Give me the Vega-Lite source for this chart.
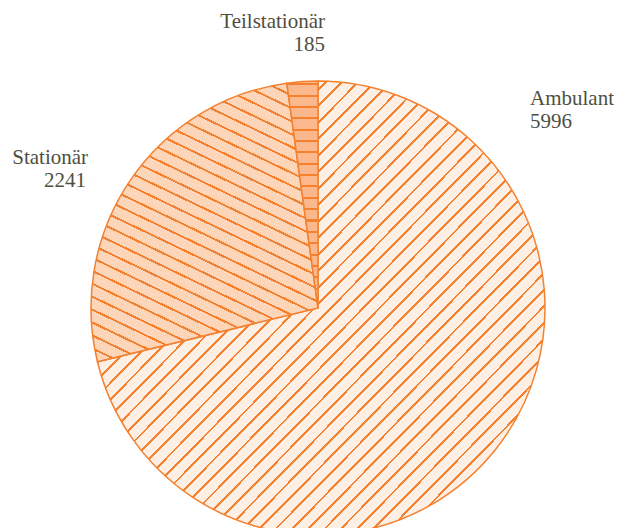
{
  "$schema": "https://vega.github.io/schema/vega-lite/v6.json",
  "autosize": "none",
  "width": 600,
  "height": 440,
  "padding": {"left": 18, "top": 88, "right": 3, "bottom": 0},
  "background": "white",
  "config": {"view": {"stroke": null}},
  "data": {
    "values": [
      {"kategorie": "Ambulant", "anzahl": 5996},
      {"kategorie": "Stationär", "anzahl": 2241},
      {"kategorie": "Teilstationär", "anzahl": 185}
    ]
  },
  "transform": [
    {"stack": "anzahl", "groupby": [], "sort": [{"field": "kategorie", "order": "ascending"}], "as": ["von", "bis"]}
  ],
  "layer": [
    {
      "mark": {"type": "arc", "radius": 227, "stroke": "#f4812f", "strokeWidth": 1.5},
      "encoding": {
        "theta": {"field": "von", "type": "quantitative", "scale": {"nice": false, "zero": true}},
        "theta2": {"field": "bis"},
        "fill": {
          "condition": [
            {"test": "datum.kategorie === 'Ambulant'", "value": {"gradient": "linear", "x1": 0, "y1": 0, "x2": 1, "y2": 1, "stops": [
{"offset":0,"color":"#f4812f"},{"offset":0.0031,"color":"#f4812f"},{"offset":0.0031,"color":"#fdefe3"},{"offset":0.0182,"color":"#fdefe3"},
{"offset":0.0182,"color":"#f4812f"},{"offset":0.0213,"color":"#f4812f"},{"offset":0.0213,"color":"#fdefe3"},{"offset":0.0364,"color":"#fdefe3"},
{"offset":0.0364,"color":"#f4812f"},{"offset":0.0395,"color":"#f4812f"},{"offset":0.0395,"color":"#fdefe3"},{"offset":0.0545,"color":"#fdefe3"},
{"offset":0.0545,"color":"#f4812f"},{"offset":0.0576,"color":"#f4812f"},{"offset":0.0576,"color":"#fdefe3"},{"offset":0.0727,"color":"#fdefe3"},
{"offset":0.0727,"color":"#f4812f"},{"offset":0.0758,"color":"#f4812f"},{"offset":0.0758,"color":"#fdefe3"},{"offset":0.0909,"color":"#fdefe3"},
{"offset":0.0909,"color":"#f4812f"},{"offset":0.094,"color":"#f4812f"},{"offset":0.094,"color":"#fdefe3"},{"offset":0.1091,"color":"#fdefe3"},
{"offset":0.1091,"color":"#f4812f"},{"offset":0.1122,"color":"#f4812f"},{"offset":0.1122,"color":"#fdefe3"},{"offset":0.1273,"color":"#fdefe3"},
{"offset":0.1273,"color":"#f4812f"},{"offset":0.1304,"color":"#f4812f"},{"offset":0.1304,"color":"#fdefe3"},{"offset":0.1455,"color":"#fdefe3"},
{"offset":0.1455,"color":"#f4812f"},{"offset":0.1486,"color":"#f4812f"},{"offset":0.1486,"color":"#fdefe3"},{"offset":0.1636,"color":"#fdefe3"},
{"offset":0.1636,"color":"#f4812f"},{"offset":0.1667,"color":"#f4812f"},{"offset":0.1667,"color":"#fdefe3"},{"offset":0.1818,"color":"#fdefe3"},
{"offset":0.1818,"color":"#f4812f"},{"offset":0.1849,"color":"#f4812f"},{"offset":0.1849,"color":"#fdefe3"},{"offset":0.2,"color":"#fdefe3"},
{"offset":0.2,"color":"#f4812f"},{"offset":0.2031,"color":"#f4812f"},{"offset":0.2031,"color":"#fdefe3"},{"offset":0.2182,"color":"#fdefe3"},
{"offset":0.2182,"color":"#f4812f"},{"offset":0.2213,"color":"#f4812f"},{"offset":0.2213,"color":"#fdefe3"},{"offset":0.2364,"color":"#fdefe3"},
{"offset":0.2364,"color":"#f4812f"},{"offset":0.2395,"color":"#f4812f"},{"offset":0.2395,"color":"#fdefe3"},{"offset":0.2545,"color":"#fdefe3"},
{"offset":0.2545,"color":"#f4812f"},{"offset":0.2576,"color":"#f4812f"},{"offset":0.2576,"color":"#fdefe3"},{"offset":0.2727,"color":"#fdefe3"},
{"offset":0.2727,"color":"#f4812f"},{"offset":0.2758,"color":"#f4812f"},{"offset":0.2758,"color":"#fdefe3"},{"offset":0.2909,"color":"#fdefe3"},
{"offset":0.2909,"color":"#f4812f"},{"offset":0.294,"color":"#f4812f"},{"offset":0.294,"color":"#fdefe3"},{"offset":0.3091,"color":"#fdefe3"},
{"offset":0.3091,"color":"#f4812f"},{"offset":0.3122,"color":"#f4812f"},{"offset":0.3122,"color":"#fdefe3"},{"offset":0.3273,"color":"#fdefe3"},
{"offset":0.3273,"color":"#f4812f"},{"offset":0.3304,"color":"#f4812f"},{"offset":0.3304,"color":"#fdefe3"},{"offset":0.3455,"color":"#fdefe3"},
{"offset":0.3455,"color":"#f4812f"},{"offset":0.3486,"color":"#f4812f"},{"offset":0.3486,"color":"#fdefe3"},{"offset":0.3636,"color":"#fdefe3"},
{"offset":0.3636,"color":"#f4812f"},{"offset":0.3667,"color":"#f4812f"},{"offset":0.3667,"color":"#fdefe3"},{"offset":0.3818,"color":"#fdefe3"},
{"offset":0.3818,"color":"#f4812f"},{"offset":0.3849,"color":"#f4812f"},{"offset":0.3849,"color":"#fdefe3"},{"offset":0.4,"color":"#fdefe3"},
{"offset":0.4,"color":"#f4812f"},{"offset":0.4031,"color":"#f4812f"},{"offset":0.4031,"color":"#fdefe3"},{"offset":0.4182,"color":"#fdefe3"},
{"offset":0.4182,"color":"#f4812f"},{"offset":0.4213,"color":"#f4812f"},{"offset":0.4213,"color":"#fdefe3"},{"offset":0.4364,"color":"#fdefe3"},
{"offset":0.4364,"color":"#f4812f"},{"offset":0.4395,"color":"#f4812f"},{"offset":0.4395,"color":"#fdefe3"},{"offset":0.4545,"color":"#fdefe3"},
{"offset":0.4545,"color":"#f4812f"},{"offset":0.4576,"color":"#f4812f"},{"offset":0.4576,"color":"#fdefe3"},{"offset":0.4727,"color":"#fdefe3"},
{"offset":0.4727,"color":"#f4812f"},{"offset":0.4758,"color":"#f4812f"},{"offset":0.4758,"color":"#fdefe3"},{"offset":0.4909,"color":"#fdefe3"},
{"offset":0.4909,"color":"#f4812f"},{"offset":0.494,"color":"#f4812f"},{"offset":0.494,"color":"#fdefe3"},{"offset":0.5091,"color":"#fdefe3"},
{"offset":0.5091,"color":"#f4812f"},{"offset":0.5122,"color":"#f4812f"},{"offset":0.5122,"color":"#fdefe3"},{"offset":0.5273,"color":"#fdefe3"},
{"offset":0.5273,"color":"#f4812f"},{"offset":0.5304,"color":"#f4812f"},{"offset":0.5304,"color":"#fdefe3"},{"offset":0.5455,"color":"#fdefe3"},
{"offset":0.5455,"color":"#f4812f"},{"offset":0.5486,"color":"#f4812f"},{"offset":0.5486,"color":"#fdefe3"},{"offset":0.5636,"color":"#fdefe3"},
{"offset":0.5636,"color":"#f4812f"},{"offset":0.5667,"color":"#f4812f"},{"offset":0.5667,"color":"#fdefe3"},{"offset":0.5818,"color":"#fdefe3"},
{"offset":0.5818,"color":"#f4812f"},{"offset":0.5849,"color":"#f4812f"},{"offset":0.5849,"color":"#fdefe3"},{"offset":0.6,"color":"#fdefe3"},
{"offset":0.6,"color":"#f4812f"},{"offset":0.6031,"color":"#f4812f"},{"offset":0.6031,"color":"#fdefe3"},{"offset":0.6182,"color":"#fdefe3"},
{"offset":0.6182,"color":"#f4812f"},{"offset":0.6213,"color":"#f4812f"},{"offset":0.6213,"color":"#fdefe3"},{"offset":0.6364,"color":"#fdefe3"},
{"offset":0.6364,"color":"#f4812f"},{"offset":0.6395,"color":"#f4812f"},{"offset":0.6395,"color":"#fdefe3"},{"offset":0.6545,"color":"#fdefe3"},
{"offset":0.6545,"color":"#f4812f"},{"offset":0.6576,"color":"#f4812f"},{"offset":0.6576,"color":"#fdefe3"},{"offset":0.6727,"color":"#fdefe3"},
{"offset":0.6727,"color":"#f4812f"},{"offset":0.6758,"color":"#f4812f"},{"offset":0.6758,"color":"#fdefe3"},{"offset":0.6909,"color":"#fdefe3"},
{"offset":0.6909,"color":"#f4812f"},{"offset":0.694,"color":"#f4812f"},{"offset":0.694,"color":"#fdefe3"},{"offset":0.7091,"color":"#fdefe3"},
{"offset":0.7091,"color":"#f4812f"},{"offset":0.7122,"color":"#f4812f"},{"offset":0.7122,"color":"#fdefe3"},{"offset":0.7273,"color":"#fdefe3"},
{"offset":0.7273,"color":"#f4812f"},{"offset":0.7304,"color":"#f4812f"},{"offset":0.7304,"color":"#fdefe3"},{"offset":0.7455,"color":"#fdefe3"},
{"offset":0.7455,"color":"#f4812f"},{"offset":0.7486,"color":"#f4812f"},{"offset":0.7486,"color":"#fdefe3"},{"offset":0.7636,"color":"#fdefe3"},
{"offset":0.7636,"color":"#f4812f"},{"offset":0.7667,"color":"#f4812f"},{"offset":0.7667,"color":"#fdefe3"},{"offset":0.7818,"color":"#fdefe3"},
{"offset":0.7818,"color":"#f4812f"},{"offset":0.7849,"color":"#f4812f"},{"offset":0.7849,"color":"#fdefe3"},{"offset":0.8,"color":"#fdefe3"},
{"offset":0.8,"color":"#f4812f"},{"offset":0.8031,"color":"#f4812f"},{"offset":0.8031,"color":"#fdefe3"},{"offset":0.8182,"color":"#fdefe3"},
{"offset":0.8182,"color":"#f4812f"},{"offset":0.8213,"color":"#f4812f"},{"offset":0.8213,"color":"#fdefe3"},{"offset":0.8364,"color":"#fdefe3"},
{"offset":0.8364,"color":"#f4812f"},{"offset":0.8395,"color":"#f4812f"},{"offset":0.8395,"color":"#fdefe3"},{"offset":0.8545,"color":"#fdefe3"},
{"offset":0.8545,"color":"#f4812f"},{"offset":0.8576,"color":"#f4812f"},{"offset":0.8576,"color":"#fdefe3"},{"offset":0.8727,"color":"#fdefe3"},
{"offset":0.8727,"color":"#f4812f"},{"offset":0.8758,"color":"#f4812f"},{"offset":0.8758,"color":"#fdefe3"},{"offset":0.8909,"color":"#fdefe3"},
{"offset":0.8909,"color":"#f4812f"},{"offset":0.894,"color":"#f4812f"},{"offset":0.894,"color":"#fdefe3"},{"offset":0.9091,"color":"#fdefe3"},
{"offset":0.9091,"color":"#f4812f"},{"offset":0.9122,"color":"#f4812f"},{"offset":0.9122,"color":"#fdefe3"},{"offset":0.9273,"color":"#fdefe3"},
{"offset":0.9273,"color":"#f4812f"},{"offset":0.9304,"color":"#f4812f"},{"offset":0.9304,"color":"#fdefe3"},{"offset":0.9455,"color":"#fdefe3"},
{"offset":0.9455,"color":"#f4812f"},{"offset":0.9486,"color":"#f4812f"},{"offset":0.9486,"color":"#fdefe3"},{"offset":0.9636,"color":"#fdefe3"},
{"offset":0.9636,"color":"#f4812f"},{"offset":0.9667,"color":"#f4812f"},{"offset":0.9667,"color":"#fdefe3"},{"offset":0.9818,"color":"#fdefe3"},
{"offset":0.9818,"color":"#f4812f"},{"offset":0.9849,"color":"#f4812f"},{"offset":0.9849,"color":"#fdefe3"},{"offset":1,"color":"#fdefe3"}
            ]}},
            {"test": "datum.kategorie === 'Stationär'", "value": {"gradient": "linear", "x1": 0, "y1": 1, "x2": 0.4716, "y2": -0.206, "stops": [
{"offset":0,"color":"#f4812f"},{"offset":0.0057,"color":"#f4812f"},{"offset":0.0057,"color":"#fdd5b9"},{"offset":0.0333,"color":"#fdd5b9"},
{"offset":0.0333,"color":"#f4812f"},{"offset":0.039,"color":"#f4812f"},{"offset":0.039,"color":"#fdd5b9"},{"offset":0.0667,"color":"#fdd5b9"},
{"offset":0.0667,"color":"#f4812f"},{"offset":0.0724,"color":"#f4812f"},{"offset":0.0724,"color":"#fdd5b9"},{"offset":0.1,"color":"#fdd5b9"},
{"offset":0.1,"color":"#f4812f"},{"offset":0.1057,"color":"#f4812f"},{"offset":0.1057,"color":"#fdd5b9"},{"offset":0.1333,"color":"#fdd5b9"},
{"offset":0.1333,"color":"#f4812f"},{"offset":0.139,"color":"#f4812f"},{"offset":0.139,"color":"#fdd5b9"},{"offset":0.1667,"color":"#fdd5b9"},
{"offset":0.1667,"color":"#f4812f"},{"offset":0.1724,"color":"#f4812f"},{"offset":0.1724,"color":"#fdd5b9"},{"offset":0.2,"color":"#fdd5b9"},
{"offset":0.2,"color":"#f4812f"},{"offset":0.2057,"color":"#f4812f"},{"offset":0.2057,"color":"#fdd5b9"},{"offset":0.2333,"color":"#fdd5b9"},
{"offset":0.2333,"color":"#f4812f"},{"offset":0.239,"color":"#f4812f"},{"offset":0.239,"color":"#fdd5b9"},{"offset":0.2667,"color":"#fdd5b9"},
{"offset":0.2667,"color":"#f4812f"},{"offset":0.2724,"color":"#f4812f"},{"offset":0.2724,"color":"#fdd5b9"},{"offset":0.3,"color":"#fdd5b9"},
{"offset":0.3,"color":"#f4812f"},{"offset":0.3057,"color":"#f4812f"},{"offset":0.3057,"color":"#fdd5b9"},{"offset":0.3333,"color":"#fdd5b9"},
{"offset":0.3333,"color":"#f4812f"},{"offset":0.339,"color":"#f4812f"},{"offset":0.339,"color":"#fdd5b9"},{"offset":0.3667,"color":"#fdd5b9"},
{"offset":0.3667,"color":"#f4812f"},{"offset":0.3724,"color":"#f4812f"},{"offset":0.3724,"color":"#fdd5b9"},{"offset":0.4,"color":"#fdd5b9"},
{"offset":0.4,"color":"#f4812f"},{"offset":0.4057,"color":"#f4812f"},{"offset":0.4057,"color":"#fdd5b9"},{"offset":0.4333,"color":"#fdd5b9"},
{"offset":0.4333,"color":"#f4812f"},{"offset":0.439,"color":"#f4812f"},{"offset":0.439,"color":"#fdd5b9"},{"offset":0.4667,"color":"#fdd5b9"},
{"offset":0.4667,"color":"#f4812f"},{"offset":0.4724,"color":"#f4812f"},{"offset":0.4724,"color":"#fdd5b9"},{"offset":0.5,"color":"#fdd5b9"},
{"offset":0.5,"color":"#f4812f"},{"offset":0.5057,"color":"#f4812f"},{"offset":0.5057,"color":"#fdd5b9"},{"offset":0.5333,"color":"#fdd5b9"},
{"offset":0.5333,"color":"#f4812f"},{"offset":0.539,"color":"#f4812f"},{"offset":0.539,"color":"#fdd5b9"},{"offset":0.5667,"color":"#fdd5b9"},
{"offset":0.5667,"color":"#f4812f"},{"offset":0.5724,"color":"#f4812f"},{"offset":0.5724,"color":"#fdd5b9"},{"offset":0.6,"color":"#fdd5b9"},
{"offset":0.6,"color":"#f4812f"},{"offset":0.6057,"color":"#f4812f"},{"offset":0.6057,"color":"#fdd5b9"},{"offset":0.6333,"color":"#fdd5b9"},
{"offset":0.6333,"color":"#f4812f"},{"offset":0.639,"color":"#f4812f"},{"offset":0.639,"color":"#fdd5b9"},{"offset":0.6667,"color":"#fdd5b9"},
{"offset":0.6667,"color":"#f4812f"},{"offset":0.6724,"color":"#f4812f"},{"offset":0.6724,"color":"#fdd5b9"},{"offset":0.7,"color":"#fdd5b9"},
{"offset":0.7,"color":"#f4812f"},{"offset":0.7057,"color":"#f4812f"},{"offset":0.7057,"color":"#fdd5b9"},{"offset":0.7333,"color":"#fdd5b9"},
{"offset":0.7333,"color":"#f4812f"},{"offset":0.739,"color":"#f4812f"},{"offset":0.739,"color":"#fdd5b9"},{"offset":0.7667,"color":"#fdd5b9"},
{"offset":0.7667,"color":"#f4812f"},{"offset":0.7724,"color":"#f4812f"},{"offset":0.7724,"color":"#fdd5b9"},{"offset":0.8,"color":"#fdd5b9"},
{"offset":0.8,"color":"#f4812f"},{"offset":0.8057,"color":"#f4812f"},{"offset":0.8057,"color":"#fdd5b9"},{"offset":0.8333,"color":"#fdd5b9"},
{"offset":0.8333,"color":"#f4812f"},{"offset":0.839,"color":"#f4812f"},{"offset":0.839,"color":"#fdd5b9"},{"offset":0.8667,"color":"#fdd5b9"},
{"offset":0.8667,"color":"#f4812f"},{"offset":0.8724,"color":"#f4812f"},{"offset":0.8724,"color":"#fdd5b9"},{"offset":0.9,"color":"#fdd5b9"},
{"offset":0.9,"color":"#f4812f"},{"offset":0.9057,"color":"#f4812f"},{"offset":0.9057,"color":"#fdd5b9"},{"offset":0.9333,"color":"#fdd5b9"},
{"offset":0.9333,"color":"#f4812f"},{"offset":0.939,"color":"#f4812f"},{"offset":0.939,"color":"#fdd5b9"},{"offset":0.9667,"color":"#fdd5b9"},
{"offset":0.9667,"color":"#f4812f"},{"offset":0.9724,"color":"#f4812f"},{"offset":0.9724,"color":"#fdd5b9"},{"offset":1,"color":"#fdd5b9"}
            ]}}
          ],
          "value": {"gradient": "linear", "x1": 0, "y1": 0, "x2": 0, "y2": 1, "stops": [
{"offset":0,"color":"#fbb88c"},{"offset":0.01,"color":"#fbb88c"},
{"offset":0.01,"color":"#f4812f"},{"offset":0.019,"color":"#f4812f"},{"offset":0.019,"color":"#fbb88c"},{"offset":0.06,"color":"#fbb88c"},
{"offset":0.06,"color":"#f4812f"},{"offset":0.069,"color":"#f4812f"},{"offset":0.069,"color":"#fbb88c"},{"offset":0.11,"color":"#fbb88c"},
{"offset":0.11,"color":"#f4812f"},{"offset":0.119,"color":"#f4812f"},{"offset":0.119,"color":"#fbb88c"},{"offset":0.16,"color":"#fbb88c"},
{"offset":0.16,"color":"#f4812f"},{"offset":0.169,"color":"#f4812f"},{"offset":0.169,"color":"#fbb88c"},{"offset":0.21,"color":"#fbb88c"},
{"offset":0.21,"color":"#f4812f"},{"offset":0.219,"color":"#f4812f"},{"offset":0.219,"color":"#fbb88c"},{"offset":0.26,"color":"#fbb88c"},
{"offset":0.26,"color":"#f4812f"},{"offset":0.269,"color":"#f4812f"},{"offset":0.269,"color":"#fbb88c"},{"offset":0.31,"color":"#fbb88c"},
{"offset":0.31,"color":"#f4812f"},{"offset":0.319,"color":"#f4812f"},{"offset":0.319,"color":"#fbb88c"},{"offset":0.36,"color":"#fbb88c"},
{"offset":0.36,"color":"#f4812f"},{"offset":0.369,"color":"#f4812f"},{"offset":0.369,"color":"#fbb88c"},{"offset":0.41,"color":"#fbb88c"},
{"offset":0.41,"color":"#f4812f"},{"offset":0.419,"color":"#f4812f"},{"offset":0.419,"color":"#fbb88c"},{"offset":0.46,"color":"#fbb88c"},
{"offset":0.46,"color":"#f4812f"},{"offset":0.469,"color":"#f4812f"},{"offset":0.469,"color":"#fbb88c"},{"offset":0.51,"color":"#fbb88c"},
{"offset":0.51,"color":"#f4812f"},{"offset":0.519,"color":"#f4812f"},{"offset":0.519,"color":"#fbb88c"},{"offset":0.56,"color":"#fbb88c"},
{"offset":0.56,"color":"#f4812f"},{"offset":0.569,"color":"#f4812f"},{"offset":0.569,"color":"#fbb88c"},{"offset":0.61,"color":"#fbb88c"},
{"offset":0.61,"color":"#f4812f"},{"offset":0.619,"color":"#f4812f"},{"offset":0.619,"color":"#fbb88c"},{"offset":0.66,"color":"#fbb88c"},
{"offset":0.66,"color":"#f4812f"},{"offset":0.669,"color":"#f4812f"},{"offset":0.669,"color":"#fbb88c"},{"offset":0.71,"color":"#fbb88c"},
{"offset":0.71,"color":"#f4812f"},{"offset":0.719,"color":"#f4812f"},{"offset":0.719,"color":"#fbb88c"},{"offset":0.76,"color":"#fbb88c"},
{"offset":0.76,"color":"#f4812f"},{"offset":0.769,"color":"#f4812f"},{"offset":0.769,"color":"#fbb88c"},{"offset":0.81,"color":"#fbb88c"},
{"offset":0.81,"color":"#f4812f"},{"offset":0.819,"color":"#f4812f"},{"offset":0.819,"color":"#fbb88c"},{"offset":0.86,"color":"#fbb88c"},
{"offset":0.86,"color":"#f4812f"},{"offset":0.869,"color":"#f4812f"},{"offset":0.869,"color":"#fbb88c"},{"offset":0.91,"color":"#fbb88c"},
{"offset":0.91,"color":"#f4812f"},{"offset":0.919,"color":"#f4812f"},{"offset":0.919,"color":"#fbb88c"},{"offset":0.96,"color":"#fbb88c"},
{"offset":0.96,"color":"#f4812f"},{"offset":0.969,"color":"#f4812f"},{"offset":0.969,"color":"#fbb88c"},{"offset":1,"color":"#fbb88c"}
          ]}
        }
      }
    },
    {
      "transform": [{"filter": "datum.kategorie === 'Ambulant'"}],
      "encoding": {"theta": {"field": "von", "type": "quantitative"}},
      "layer": [
        {"mark": {"type": "text", "radius": 293.5, "thetaOffset": 0.807, "align": "left", "baseline": "alphabetic", "font": "Liberation Serif", "fontSize": 21, "color": "#4f4f3f"},
         "encoding": {"text": {"field": "kategorie"}}},
        {"mark": {"type": "text", "radius": 293.5, "thetaOffset": 0.807, "dy": 23, "align": "left", "baseline": "alphabetic", "font": "Liberation Serif", "fontSize": 21, "color": "#4f4f3f"},
         "encoding": {"text": {"field": "anzahl", "format": "d"}}}
      ]
    },
    {
      "transform": [{"filter": "datum.kategorie === 'Stationär'"}],
      "encoding": {"theta": {"field": "von", "type": "quantitative"}},
      "layer": [
        {"mark": {"type": "text", "radius": 271.4, "thetaOffset": 0.799, "align": "right", "baseline": "alphabetic", "font": "Liberation Serif", "fontSize": 21, "color": "#4f4f3f"},
         "encoding": {"text": {"field": "kategorie"}}},
        {"mark": {"type": "text", "radius": 271.4, "thetaOffset": 0.799, "dy": 23, "dx": -2, "align": "right", "baseline": "alphabetic", "font": "Liberation Serif", "fontSize": 21, "color": "#4f4f3f"},
         "encoding": {"text": {"field": "anzahl", "format": "d"}}}
      ]
    },
    {
      "transform": [{"filter": "datum.kategorie === 'Teilstationär'"}],
      "encoding": {"theta": {"field": "bis", "type": "quantitative"}},
      "layer": [
        {"mark": {"type": "text", "radius": 280.1, "thetaOffset": 0.025, "align": "right", "baseline": "alphabetic", "font": "Liberation Serif", "fontSize": 21, "color": "#4f4f3f"},
         "encoding": {"text": {"field": "kategorie"}}},
        {"mark": {"type": "text", "radius": 280.1, "thetaOffset": 0.025, "dy": 23, "align": "right", "baseline": "alphabetic", "font": "Liberation Serif", "fontSize": 21, "color": "#4f4f3f"},
         "encoding": {"text": {"field": "anzahl", "format": "d"}}}
      ]
    }
  ]
}
